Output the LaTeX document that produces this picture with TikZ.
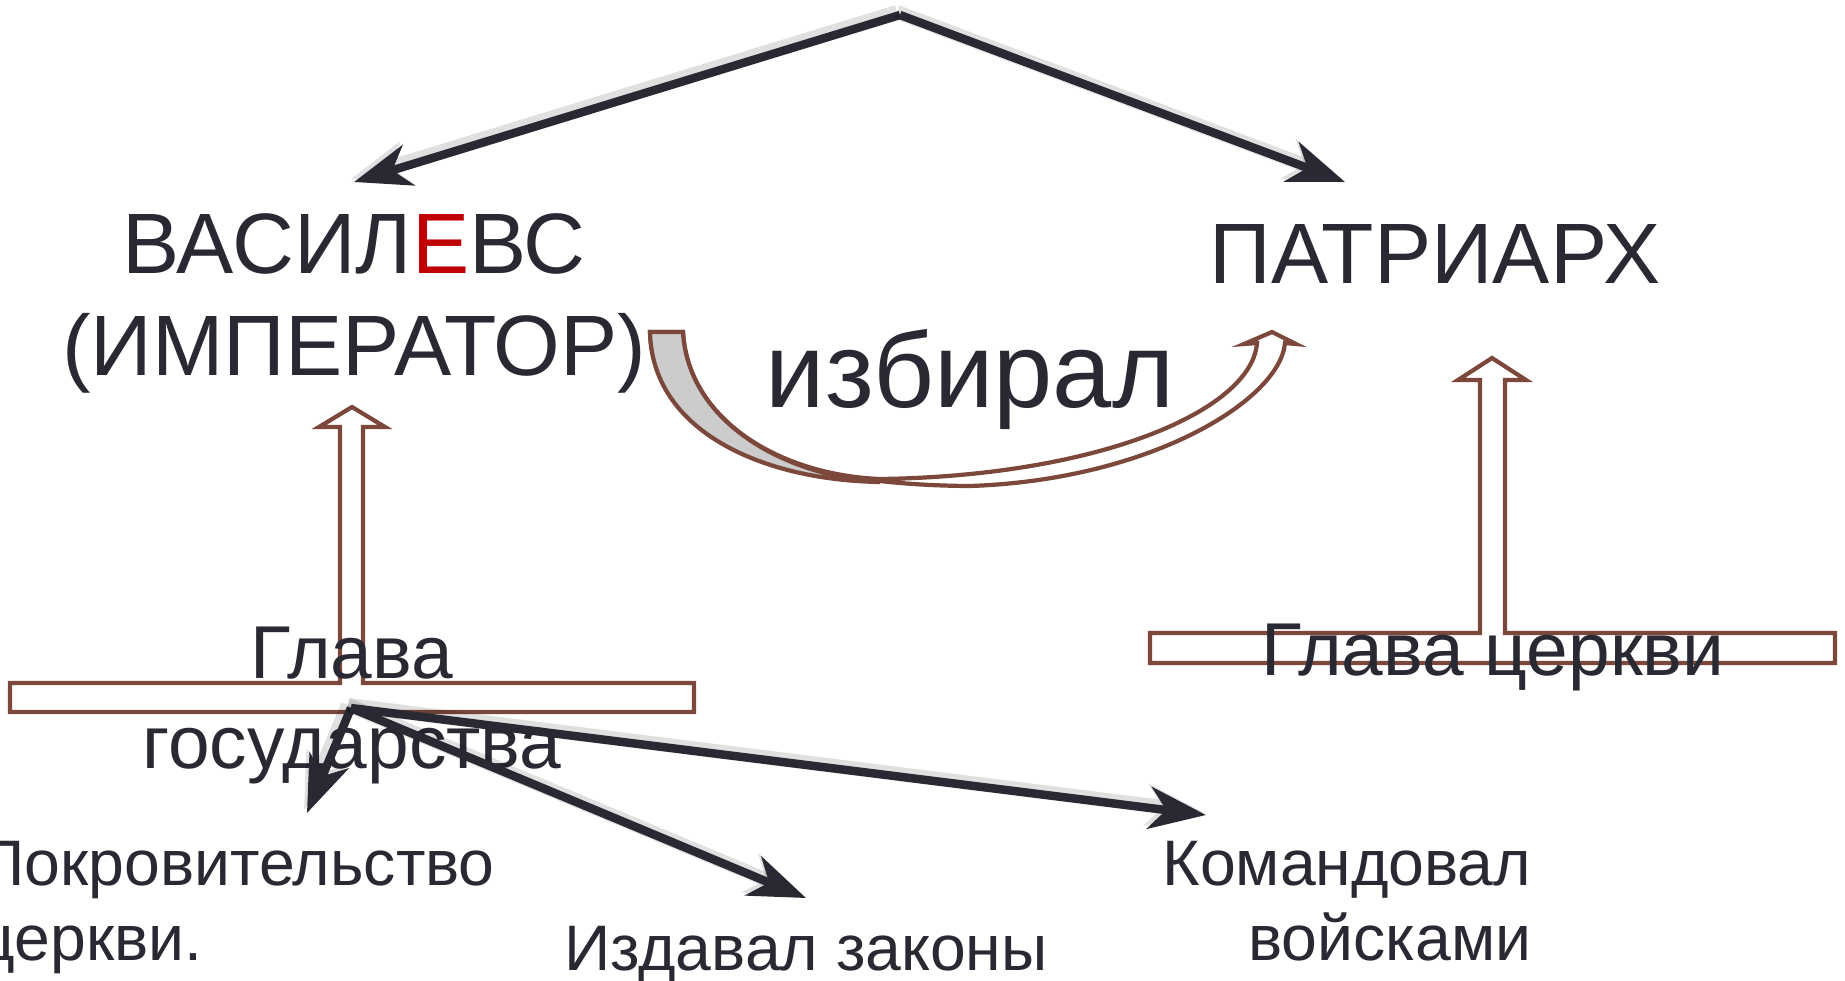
\documentclass[tikz,border=0pt]{standalone}
\usepackage{fontspec}
\setmainfont{Liberation Sans}
\usepackage{tikz}
\usetikzlibrary{arrows.meta}
\definecolor{inkdark}{RGB}{41,41,51}
\definecolor{rustline}{RGB}{124,72,60}
\definecolor{redletter}{RGB}{192,0,0}
\tikzset{
	bigtext/.style = {inner sep=0pt, align=center, text=inkdark,
		font=\fontsize{24.4pt}{29pt}\selectfont},% titles
	midtext/.style = {inner sep=0pt, align=center, text=inkdark,
		font=\fontsize{21.3pt}{25.6pt}\selectfont},% glava
	smalltext/.style = {inner sep=0pt, text=inkdark,
		font=\fontsize{18.3pt}{21.3pt}\selectfont},% duties
	blockarrow/.style = {draw=rustline, line width=1.2pt, fill=white,
		line join=miter},% hollow arrows
	darkarrow/.style = {draw=inkdark, line width=2.4pt,
		-{Stealth[length=5.7mm, width=4.2mm, inset=1.7mm]},
		preaction={draw=black, opacity=0.12, line width=4pt,
			transform canvas={xshift=-0.3mm, yshift=0.3mm}}}% black arrows
}

\begin{document}
\begin{tikzpicture}[x=0.1mm, y=-0.1mm]
	\useasboundingbox (0,0) rectangle (1845,980);
	% hollow T arrows
	\path[blockarrow] (10,712) -- (694,712) -- (694,683) -- (363,683) -- (363,427)
		-- (385,427) -- (352,407) -- (319,427) -- (340,427) -- (340,683)
		-- (10,683) -- cycle;
	\path[blockarrow] (1150,663) -- (1835,663) -- (1835,633) -- (1505,633)
		-- (1505,380) -- (1526,380) -- (1492,358) -- (1458,380) -- (1480,380)
		-- (1480,633) -- (1150,633) -- cycle;
	% curved arrow
	\path[blockarrow] (650,332) .. controls (652,430) and (780,485) .. (970,486)
		.. controls (1150,480) and (1280,400) .. (1285,343) -- (1296,344)
		-- (1272,332) -- (1244,344) -- (1257,343)
		.. controls (1252,410) and (1100,476) .. (880,479)
		.. controls (780,475) and (688,420) .. (683,332) -- cycle;
	\path[blockarrow, fill=black!20] (650,332) .. controls (652,430) and (760,480) .. (880,482)
		.. controls (780,475) and (688,420) .. (683,332) -- cycle;
	% texts
	\node[bigtext, anchor=base] (basil) at (354,375)
		{ВАСИЛ\textcolor{redletter}{Е}ВС\\(ИМПЕРАТОР)};
	\node[bigtext, anchor=base] (patr) at (1435,283) {ПАТРИАРХ};
	\node[inner sep=0pt, text=inkdark, font=\fontsize{30.3pt}{36pt}\selectfont,
		anchor=base] (izb) at (970,407) {избирал};
	\node[midtext, anchor=base] (glavaL) at (352,768) {Глава\\государства};
	\node[midtext, anchor=base] (glavaR) at (1493,675) {Глава церкви};
	\node[smalltext, align=left, anchor=base west] (pokr) at (-22,960)
		{Покровительство\\церкви.};
	\node[smalltext, anchor=base] (izdav) at (806,970) {Издавал законы};
	\node[smalltext, align=right, anchor=base east] (koman) at (1532,960)
		{Командовал\\войсками};
	% black arrows
	\coordinate (apex) at (900,15);
	\coordinate (hub) at (351,708);
	\coordinate (basilTip) at (354,182);
	\coordinate (patrTip) at (1345,182);
	\coordinate (pokrTip) at (307,813);
	\coordinate (izdavTip) at (806,898);
	\coordinate (komanTip) at (1206,815);
	\draw[darkarrow] (apex) -- (basilTip);
	\draw[darkarrow] (apex) -- (patrTip);
	\draw[darkarrow] (hub) -- (pokrTip);
	\draw[darkarrow] (hub) -- (izdavTip);
	\draw[darkarrow] (hub) -- (komanTip);
\end{tikzpicture}
\end{document}
